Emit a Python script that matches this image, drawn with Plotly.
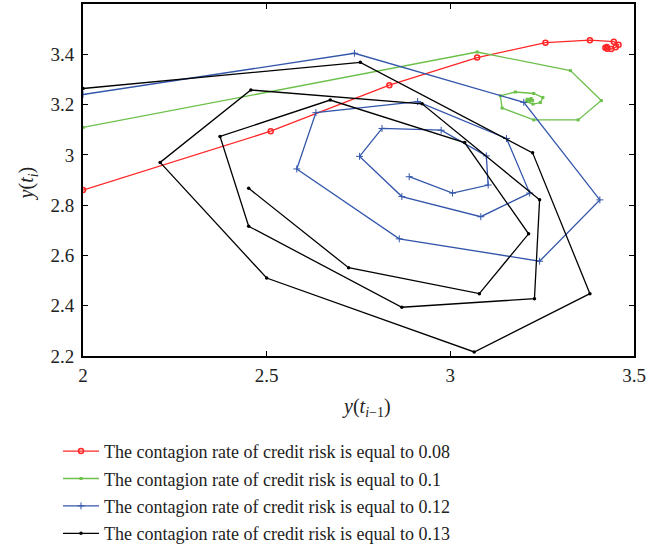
import plotly.graph_objects as go

# Series 0.08 (red)
red_x = [2.0, 2.511, 2.834, 3.073, 3.259, 3.380, 3.445, 3.458, 3.450, 3.438, 3.427, 3.422, 3.426]
red_y = [2.860, 3.094, 3.277, 3.387, 3.446, 3.456, 3.450, 3.438, 3.428, 3.421, 3.422, 3.426, 3.429]

# Series 0.1 (green)
green_x = [2.0, 3.073, 3.327, 3.411, 3.348, 3.227, 3.141, 3.136, 3.177, 3.227, 3.252, 3.245,
           3.225, 3.207, 3.209, 3.220, 3.224, 3.216, 3.213, 3.218]
green_y = [3.109, 3.409, 3.335, 3.216, 3.139, 3.139, 3.186, 3.235, 3.250, 3.244, 3.228, 3.208,
           3.202, 3.212, 3.221, 3.224, 3.217, 3.214, 3.219, 3.220]

# Series 0.12 (blue)
blue_x = [2.0, 2.739, 3.200, 3.407, 3.243, 2.861, 2.582, 2.634, 2.911, 3.153, 3.216, 3.083,
          2.868, 2.753, 2.814, 2.975, 3.098, 3.103, 3.006, 2.888]
blue_y = [3.240, 3.404, 3.209, 2.821, 2.577, 2.666, 2.944, 3.168, 3.212, 3.065, 2.848, 2.754,
          2.834, 2.994, 3.105, 3.098, 2.996, 2.880, 2.848, 2.913]

# Series 0.13 (black)
black_x = [2.0, 2.755, 3.224, 3.380, 3.065, 2.500, 2.210, 2.457, 2.923, 3.243, 3.229, 2.868,
           2.451, 2.373, 2.673, 3.039, 3.213, 3.079, 2.723, 2.451]
black_y = [3.264, 3.368, 3.008, 2.448, 2.216, 2.510, 2.970, 3.258, 3.203, 2.821, 2.428, 2.394,
           2.716, 3.073, 3.218, 3.049, 2.686, 2.448, 2.551, 2.867]

names = [
    "The contagion rate of credit risk is equal to 0.08",
    "The contagion rate of credit risk is equal to 0.1",
    "The contagion rate of credit risk is equal to 0.12",
    "The contagion rate of credit risk is equal to 0.13",
]

x_ticks = [2, 2.5, 3, 3.5]
x_ticklabels = ["2", "2.5", "3", "3.5"]
y_ticks = [2.2, 2.4, 2.6, 2.8, 3.0, 3.2, 3.4]
y_ticklabels = ["2.2", "2.4", "2.6", "2.8", "3", "3.2", "3.4"]

FONT = "Liberation Serif"

fig = go.Figure()
fig.add_trace(go.Scatter(x=red_x, y=red_y, mode="lines+markers", name=names[0], legendgroup="a",
                         line=dict(color="#ff2626", width=1.3),
                         marker=dict(symbol="circle-open", size=5, color="#ff2626", line=dict(width=1.5))))
fig.add_trace(go.Scatter(x=green_x, y=green_y, mode="lines+markers", name=names[1], legendgroup="b",
                         line=dict(color="#6cc04a", width=1.3),
                         marker=dict(symbol="square", size=3, color="#6cc04a")))
fig.add_trace(go.Scatter(x=blue_x, y=blue_y, mode="lines+markers", name=names[2], legendgroup="c",
                         line=dict(color="#3356aa", width=1.3),
                         marker=dict(symbol="cross-thin", size=5, color="#3356aa", line=dict(width=1, color="#3356aa"))))
fig.add_trace(go.Scatter(x=black_x, y=black_y, mode="lines+markers", name=names[3], legendgroup="d",
                         line=dict(color="#000000", width=1.3),
                         marker=dict(symbol="circle", size=3.5, color="#000000")))

axis_common = dict(
    showgrid=False, zeroline=False, showline=True, linecolor="black", linewidth=2,
    ticks="inside", ticklen=5, tickwidth=1.3, tickcolor="black", mirror="ticks",
    tickfont=dict(family=FONT, size=19, color="#222"),
    automargin=False,
)
fig.update_xaxes(range=[2, 3.5], tickvals=x_ticks, ticktext=x_ticklabels, ticklabelstandoff=1, **axis_common)
fig.update_yaxes(range=[2.2, 3.6], tickvals=y_ticks, ticktext=y_ticklabels, ticklabelstandoff=3, **axis_common)

fig.add_annotation(text="<i>y</i>(<i>t</i><sub><i>i</i>−1</sub>)", xref="paper", yref="paper",
                   x=0.515, y=-0.145, xanchor="center", yanchor="middle", showarrow=False,
                   font=dict(family=FONT, size=20, color="#222"))
fig.add_annotation(text="<i>y</i>(<i>t</i><sub><i>i</i></sub>)", xref="paper", yref="paper",
                   x=-0.1, y=0.49, xanchor="center", yanchor="middle", showarrow=False, textangle=-90,
                   font=dict(family=FONT, size=20, color="#222"))

fig.update_layout(
    width=663, height=548,
    margin=dict(l=83, r=29, t=4, b=192, autoexpand=False),
    plot_bgcolor="white", paper_bgcolor="white",
    showlegend=True,
    legend=dict(xref="container", yref="container", x=0.0875, y=0.21, xanchor="left", yanchor="top",
                font=dict(family=FONT, size=18, color="#222"),
                tracegroupgap=1, itemwidth=36, bgcolor="rgba(0,0,0,0)"),
)

fig.write_html("out.html")
